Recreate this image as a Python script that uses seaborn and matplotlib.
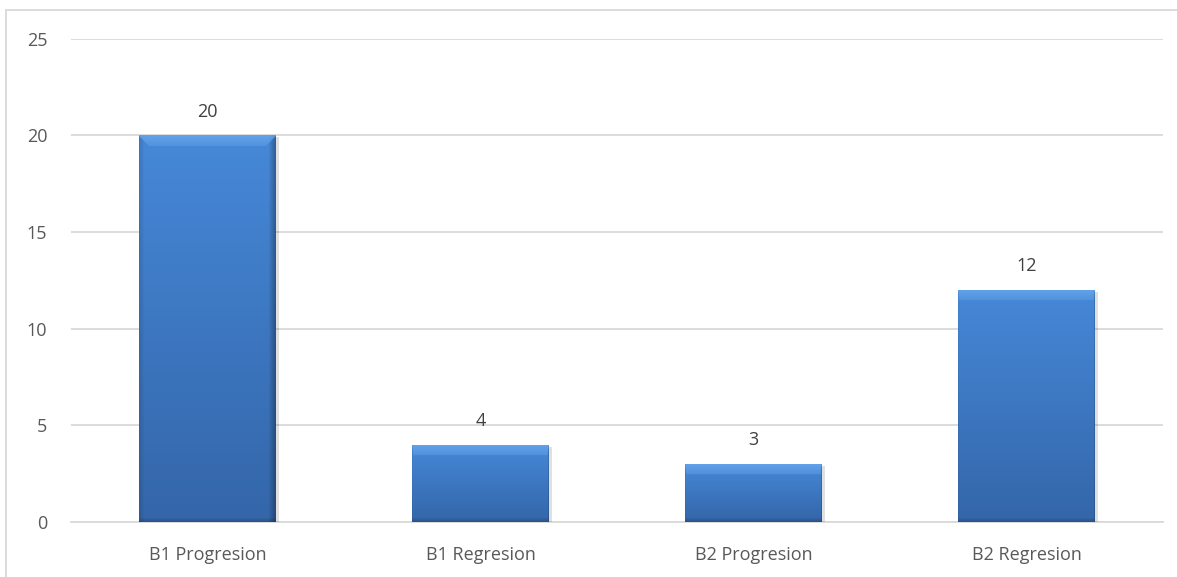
import numpy as np
import pandas as pd
import matplotlib
matplotlib.use("Agg")
import matplotlib.pyplot as plt
import matplotlib.patheffects as pe
import seaborn as sns
from matplotlib.patches import Rectangle

categories = ["B1 Progresion", "B1 Regresion", "B2 Progresion", "B2 Regresion"]
values = [20, 4, 3, 12]
y_ticks = [0, 5, 10, 15, 20, 25]

sns.set_theme(style="white")
plt.rcParams["font.family"] = ["Open Sans", "DejaVu Sans"]

DPI = 100
W, H = 1177, 577
FS = 13
fig = plt.figure(figsize=(W / DPI, H / DPI), dpi=DPI)
ax = fig.add_axes([71 / W, 1 - 522 / H, (1163 - 71) / W, (522 - 38.5) / H])

df = pd.DataFrame({"category": categories, "value": values})
sns.barplot(data=df, x="category", y="value", color="#3F80D0", width=0.5,
            saturation=1, ax=ax, zorder=3)

ax.set_ylim(0, 25)
ax.set_yticks(y_ticks)
ax.set_xlabel("")
ax.set_ylabel("")
ax.grid(axis="y", color="#d9d9d9", linewidth=1.3, zorder=0)
for s in ["top", "right", "left"]:
    ax.spines[s].set_visible(False)
ax.spines["bottom"].set_color("#d9d9d9")
ax.spines["bottom"].set_linewidth(1.3)
ax.spines["bottom"].set_zorder(1)
ax.tick_params(axis="y", length=0, pad=17, labelsize=FS, labelcolor="#595959")
ax.tick_params(axis="x", length=0, pad=17, labelsize=FS, labelcolor="#595959")

# soft drop shadow on each bar
for patch in ax.patches:
    patch.set_edgecolor("none")
    patch.set_path_effects([pe.SimplePatchShadow(offset=(2.5, -1.5), alpha=0.12,
                                                 shadow_rgbFace="#000000"),
                            pe.Normal()])

# Bevelled fill for each bar, built in pixel units and clipped to the bar
fig.canvas.draw()
top_col = np.array([0x46, 0x88, 0xD8]) / 255.0
bot_col = np.array([0x34, 0x66, 0xA9]) / 255.0
hi = np.array([0x6E, 0xAC, 0xF0]) / 255.0
for patch in ax.patches:
    bb = patch.get_window_extent()
    pw, ph = max(int(round(bb.width)), 2), max(int(round(bb.height)), 2)
    xs = np.arange(pw)[None, :].repeat(ph, 0).astype(float)
    ys = np.arange(ph)[:, None].repeat(pw, 1).astype(float)
    t = (ys / max(ph - 1, 1))[..., None]
    img = top_col * (1 - t) + bot_col * t
    # darker side edges
    right = np.clip(1 - (pw - 1 - xs) / 7.0, 0, 1)
    left = np.clip(1 - xs / 5.0, 0, 1)
    img = img * (1 - 0.30 * right - 0.12 * left)[..., None]
    # light top bevel with mitred corners
    B = 11.0
    top = (ys < B).astype(float) * np.clip((np.minimum(xs, pw - 1 - xs) - ys + 2) / 2.0, 0, 1)
    top *= np.clip(1.0 - ys / (B * 1.6), 0.3, 1)
    img = img * (1 - top[..., None] * 0.75) + hi * top[..., None] * 0.75
    # dark bottom rim
    bot = np.clip(1 - (ph - 1 - ys) / 4.0, 0, 1)
    img *= (1 - 0.18 * bot)[..., None]
    x0, x1 = patch.get_x(), patch.get_x() + patch.get_width()
    y0, y1 = patch.get_y(), patch.get_y() + patch.get_height()
    im = ax.imshow(np.clip(img, 0, 1), extent=(x0, x1, y0, y1), aspect="auto",
                   origin="upper", zorder=4, interpolation="bilinear")
    im.set_clip_path(patch)

ax.set_xlim(-0.5, len(categories) - 0.5)
ax.set_ylim(0, 25)

for i, v in enumerate(values):
    ax.annotate(str(v), xy=(i, v), xytext=(0, 17), textcoords="offset points",
                ha="center", va="center", fontsize=FS, color="#404040", zorder=5)

# outer chart frame
fig.patches.append(Rectangle((6 / W, -0.1), 1.2, 1 - 9.5 / H + 0.1,
                             transform=fig.transFigure, fill=False,
                             edgecolor="#d9d9d9", linewidth=1.3))

fig.savefig("out.png", dpi=DPI)
